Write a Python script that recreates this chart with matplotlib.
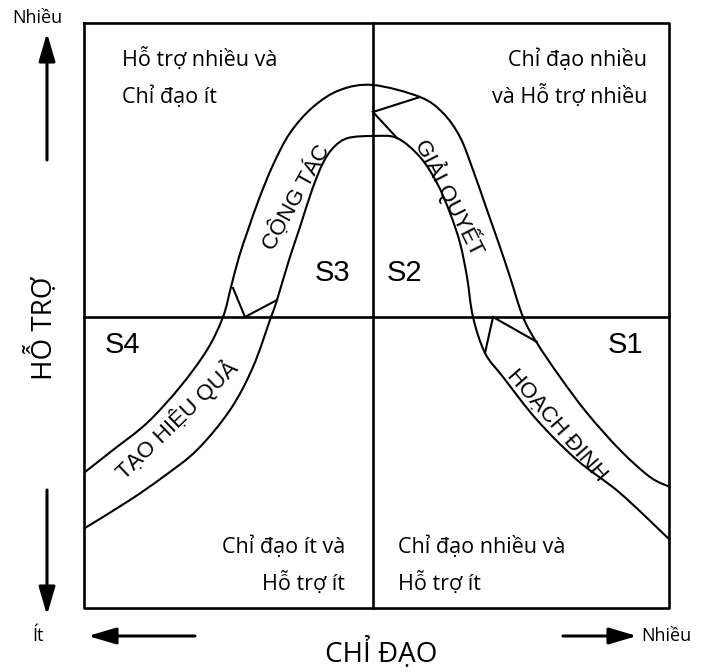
import matplotlib.pyplot as plt
import numpy as np
from matplotlib.path import Path
from matplotlib.patches import PathPatch

# Diagram drawn in image pixel coordinates (x right, y down)
box_left, box_right, box_top, box_bottom = 84, 669, 23, 608
mid_x, mid_y = 373, 317

# outer (upper) edge of the band
outer_x = [85, 113, 147, 180, 207, 223, 231, 239, 248, 259, 273, 290, 313, 340, 373,
           420, 443, 460, 473, 487, 500, 510, 523, 537, 560, 587, 620, 650, 670]
outer_y = [472, 450, 423, 387, 350, 317, 287, 257, 230, 199, 165, 133, 107, 90, 85,
           97, 113, 137, 170, 210, 247, 277, 317, 343, 377, 413, 450, 477, 487]

# inner (lower) edge of the band
inner_x = [85, 130, 163, 197, 230, 253, 271, 277, 289, 300, 312, 323, 334, 348, 373,
           397, 420, 437, 450, 460, 467, 473, 485, 503, 537, 577, 620, 670]
inner_y = [528, 500, 477, 450, 410, 367, 317, 300, 260, 227, 190, 163, 147, 138, 136,
           138, 157, 183, 213, 243, 277, 317, 353, 377, 420, 460, 493, 540]

# small separators between the four stages
separators = [
    ([233, 245, 277], [288, 317, 300]),
    ([420, 373, 397], [97, 112, 138]),
    ([485, 493, 537], [353, 317, 342]),
]

stage_names = ['S1', 'S2', 'S3', 'S4']
stage_pos = [(625, 345), (405, 273), (333, 273), (122, 345)]

band_labels = ['CỘNG TÁC', 'GIẢI QUYẾT', 'HOẠCH ĐỊNH', 'TẠO HIỆU QUẢ']
band_pos = [(296, 197), (450, 197), (557, 425), (177, 420)]
band_rot = [61, -63, -49, 44]

# quadrant descriptions: (lines, x, first baseline, alignment)
quad_text = [
    (['Hỗ trợ nhiều và', 'Chỉ đạo ít'], 122, 66, 'left'),
    (['Chỉ đạo nhiều', 'và Hỗ trợ nhiều'], 647, 66, 'right'),
    (['Chỉ đạo ít và', 'Hỗ trợ ít'], 345, 553, 'right'),
    (['Chỉ đạo nhiều và', 'Hỗ trợ ít'], 398, 553, 'left'),
]
line_gap = 37

VN = ['Open Sans', 'DejaVu Sans']
ARIAL = ['Liberation Sans', 'DejaVu Sans']


def smooth_path(xs, ys):
    # Catmull-Rom through the read points, as cubic Bezier segments
    p = np.column_stack([xs, ys]).astype(float)
    pts = np.vstack([p[0], p, p[-1]])
    verts = [p[0]]
    codes = [Path.MOVETO]
    for i in range(1, len(pts) - 2):
        c1 = pts[i] + (pts[i + 1] - pts[i - 1]) / 6
        c2 = pts[i + 1] - (pts[i + 2] - pts[i]) / 6
        verts += [c1, c2, pts[i + 1]]
        codes += [Path.CURVE4] * 3
    return Path(verts, codes)


fig = plt.figure(figsize=(7.14, 6.72), dpi=100)
ax = fig.add_axes([0, 0, 1, 1])
ax.set_xlim(0, 714)
ax.set_ylim(672, 0)
ax.axis('off')

frame_lw = 1.9
band_lw = 1.5
# frame and quadrant lines
ax.plot([box_left, box_right, box_right, box_left, box_left],
        [box_top, box_top, box_bottom, box_bottom, box_top], color='black', lw=frame_lw)
ax.plot([mid_x, mid_x], [box_top, box_bottom], color='black', lw=frame_lw)
ax.plot([box_left, box_right], [mid_y, mid_y], color='black', lw=frame_lw)

# the band
for xs, ys in [(outer_x, outer_y), (inner_x, inner_y)]:
    ax.add_patch(PathPatch(smooth_path(xs, ys), facecolor='none', edgecolor='black', lw=band_lw))
for xs, ys in separators:
    ax.plot(xs, ys, color='black', lw=band_lw, solid_joinstyle='miter')

for name, (x, y) in zip(stage_names, stage_pos):
    ax.text(x, y, name, fontsize=21, family=ARIAL, ha='center', va='center')

for lab, (x, y), r in zip(band_labels, band_pos, band_rot):
    ax.text(x, y, lab, fontsize=16, family=ARIAL, ha='center', va='center',
            rotation=r, rotation_mode='anchor')

for lines, x, y, al in quad_text:
    for k, line in enumerate(lines):
        ax.text(x, y + k * line_gap, line, fontsize=15.5, family=VN,
                ha=al, va='baseline')

# axis names and arrows
arrow = dict(arrowstyle='-|>,head_length=0.85,head_width=0.25', color='black',
             lw=2.2, mutation_scale=20, shrinkA=0, shrinkB=0)
ax.annotate('', xy=(47, 33), xytext=(47, 160), arrowprops=arrow)
ax.annotate('', xy=(47, 615), xytext=(47, 490), arrowprops=arrow)
ax.annotate('', xy=(88, 636), xytext=(195, 636), arrowprops=arrow)
ax.annotate('', xy=(637, 636), xytext=(563, 636), arrowprops=arrow)

ax.text(37, 18, 'Nhiều', fontsize=13, family=VN, ha='center', va='center')
ax.text(43, 328, 'HỖ TRỢ', fontsize=20, family=VN, ha='center', va='center', rotation=90)
ax.text(38, 636, 'Ít', fontsize=13, family=VN, ha='center', va='center')
ax.text(641, 636, 'Nhiều', fontsize=13, family=VN, ha='left', va='center')
ax.text(381, 652, 'CHỈ ĐẠO', fontsize=20, family=VN, ha='center', va='center')

plt.savefig('out.png', dpi=100)
